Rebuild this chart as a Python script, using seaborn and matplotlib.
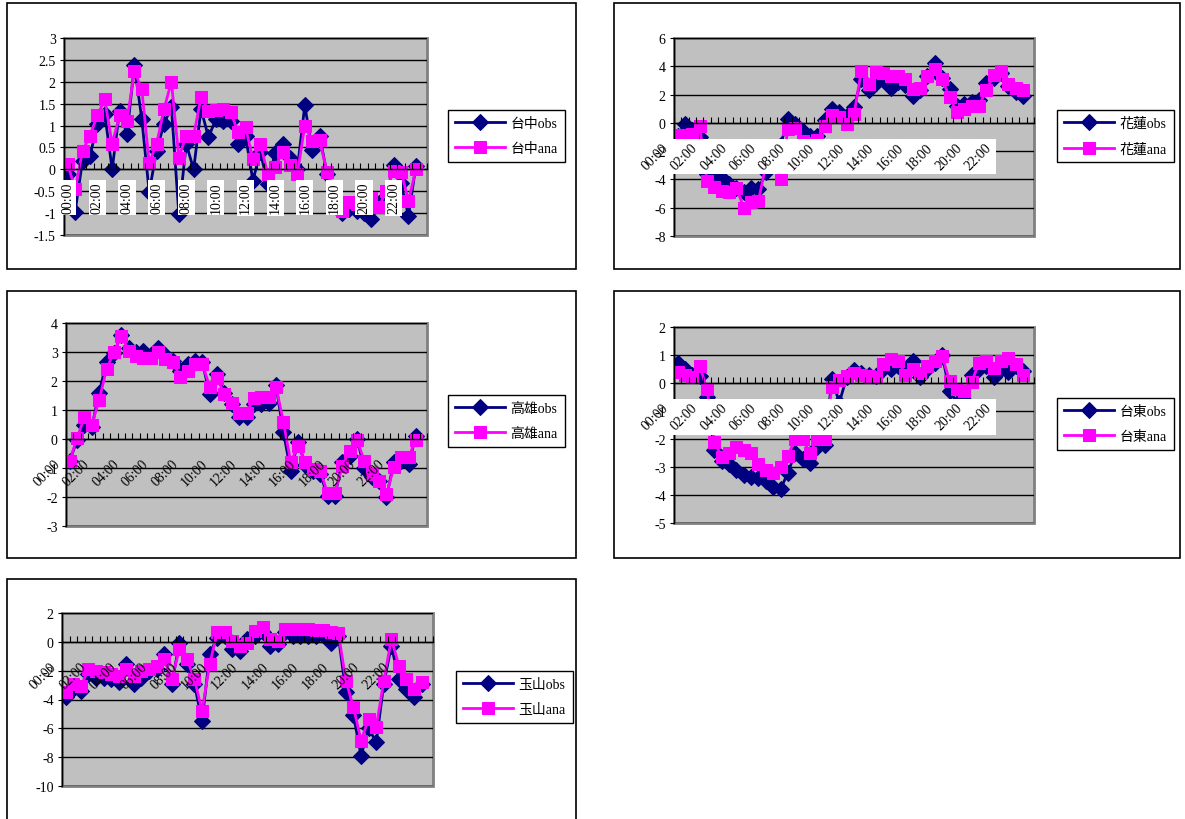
import numpy as np
import pandas as pd
import seaborn as sns
import matplotlib.pyplot as plt
from matplotlib import ticker, transforms
from matplotlib.patches import Rectangle

plt.rcParams['font.family'] = ['Liberation Serif', 'Noto Sans CJK TC']
plt.rcParams['font.size'] = 10

# Categories: half-hourly, 00:00 .. 24:00 (the last slot stays empty)
times = [f'{h:02d}:{m:02d}' for h in range(24) for m in (0, 30)] + ['24:00']

# 台中
taichung_obs = [-0.1, -0.97, 0.2, 0.3, 1.03, 1.27, 0.0, 1.34, 0.8, 2.38, 1.15, -0.52,
                0.43, 1.04, 1.42, -1.02, 0.58, 0.0, 1.38, 0.73, 1.15, 1.1, 1.1, 0.58,
                0.77, -0.26, 0.4, -0.33, 0.38, 0.58, 0.25, 0.0, 1.46, 0.45, 0.77, -0.1,
                -0.6, -1.0, -0.9, -0.95, -1.0, -1.14, -0.8, -0.6, 0.1, -0.32, -1.06, 0.08]
taichung_ana = [0.12, -0.45, 0.42, 0.77, 1.23, 1.6, 0.58, 1.23, 1.1, 2.25, 1.83, 0.15,
                0.58, 1.38, 2.0, 0.27, 0.77, 0.77, 1.65, 1.34, 1.35, 1.38, 1.3, 0.85,
                0.96, 0.24, 0.58, -0.1, 0.05, 0.4, 0.09, -0.1, 1.0, 0.65, 0.66, -0.05,
                -0.55, -0.95, -0.75, -0.8, -0.75, -0.65, -0.85, -0.5, -0.03, -0.05, -0.72, 0.0]

# 花蓮
hualien_obs = [-0.9, -0.05, -0.5, -1.0, -3.6, -3.9, -3.9, -4.3, -4.6, -4.9, -4.6, -4.7,
               -3.5, -2.4, -1.6, 0.3, -0.1, -0.6, -0.9, -0.9, 0.2, 1.0, 0.8, 0.5,
               1.1, 3.1, 2.3, 2.8, 3.0, 2.5, 2.9, 2.7, 1.9, 2.3, 3.3, 4.2,
               3.2, 2.4, 1.2, 1.3, 1.5, 1.6, 2.8, 3.2, 3.5, 2.6, 2.2, 1.9]
hualien_ana = [-0.85, -0.85, -0.8, -0.25, -4.1, -4.5, -4.8, -4.9, -4.6, -6.0, -5.6, -5.5,
               -3.0, -2.0, -4.0, -0.45, -0.35, -1.3, -1.4, -1.2, -0.2, 0.55, 0.4, -0.1,
               0.6, 3.7, 2.75, 3.6, 3.5, 3.3, 3.3, 3.1, 2.4, 2.5, 3.3, 3.8,
               3.1, 1.8, 0.75, 1.0, 1.2, 1.2, 2.3, 3.35, 3.7, 2.75, 2.5, 2.3]

# 高雄
kaohsiung_obs = [-0.75, -0.05, 0.5, 0.4, 1.6, 2.65, 2.95, 3.6, 3.15, 3.0, 3.05, 2.9,
                 3.15, 2.9, 2.7, 2.35, 2.6, 2.7, 2.65, 1.55, 2.25, 1.6, 1.2, 0.75,
                 0.75, 1.2, 1.2, 1.25, 1.85, 0.25, -1.1, -0.1, -0.9, -1.1, -1.2, -1.95,
                 -1.95, -0.8, -0.6, 0.0, -1.0, -1.3, -1.45, -2.0, -0.8, -0.75, -0.85, 0.1]
kaohsiung_ana = [-0.75, 0.03, 0.75, 0.5, 1.35, 2.4, 3.0, 3.55, 3.05, 2.85, 2.8, 2.8,
                 3.0, 2.75, 2.65, 2.15, 2.35, 2.6, 2.6, 1.8, 2.1, 1.55, 1.25, 0.9,
                 0.9, 1.4, 1.45, 1.45, 1.8, 0.6, -0.8, -0.25, -0.8, -1.05, -1.1, -1.85,
                 -1.85, -0.92, -0.4, -0.05, -0.75, -1.2, -1.45, -1.9, -0.98, -0.63, -0.63, -0.03]

# 台東
taitung_obs = [0.7, 0.5, 0.3, 0.25, -0.5, -2.4, -2.8, -2.9, -3.1, -3.3, -3.35, -3.4,
               -3.5, -3.7, -3.8, -3.2, -2.5, -2.7, -2.85, -2.3, -2.2, 0.15, -0.7, 0.2,
               0.45, 0.35, 0.3, 0.25, 0.5, 0.5, 0.6, 0.45, 0.8, 0.2, 0.5, 0.7,
               1.0, -0.28, -0.7, -0.6, 0.3, 0.5, 0.6, 0.2, 0.5, 0.4, 0.6, 0.43]
taitung_ana = [0.4, 0.3, 0.2, 0.6, -0.22, -2.1, -2.65, -2.5, -2.3, -2.4, -2.5, -2.9,
               -3.1, -3.2, -3.0, -2.6, -2.0, -2.0, -2.5, -2.0, -2.0, -0.15, 0.1, 0.25,
               0.37, 0.3, 0.25, 0.2, 0.67, 0.85, 0.8, 0.3, 0.5, 0.35, 0.6, 0.8,
               0.97, 0.08, -0.2, -0.3, 0.02, 0.73, 0.8, 0.55, 0.8, 0.9, 0.67, 0.3]

# 玉山
yushan_obs = [-3.85, -3.3, -3.4, -2.25, -2.5, -2.5, -2.6, -2.8, -1.55, -2.95, -2.5, -2.0,
              -1.9, -0.85, -2.95, -0.05, -1.55, -2.95, -5.5, -0.85, 0.3, 0.4, -0.5, -0.63,
              0.2, 0.4, 0.65, -0.3, -0.15, 0.65, 0.4, 0.4, 0.4, 0.4, 0.5, -0.1,
              0.4, -3.5, -5.1, -7.9, -6.0, -6.97, -2.9, -0.27, -2.6, -3.3, -3.85, -2.9]
yushan_ana = [-3.5, -2.95, -3.05, -1.9, -2.0, -2.1, -2.25, -2.35, -1.9, -2.35, -2.0, -1.9,
              -1.65, -1.2, -2.6, -0.5, -1.2, -2.6, -4.8, -1.55, 0.65, 0.65, 0.07, -0.28,
              -0.05, 0.75, 1.0, 0.2, 0.07, 0.88, 0.88, 0.88, 0.88, 0.85, 0.85, 0.65,
              0.6, -2.7, -4.55, -6.85, -5.35, -5.9, -2.7, 0.2, -1.66, -2.6, -3.3, -2.8]

W, H = 1185, 820
fig = plt.figure(figsize=(W / 100, H / 100), dpi=100)

# station, obs, ana, plot area (l, t, r, b) px, y range + step, legend (left, centre y) px, label style
panels = [
    ('台中', taichung_obs, taichung_ana, (64, 39, 427, 236), (-1.5, 3, 0.5), (448, 137), 'vbox'),
    ('花蓮', hualien_obs, hualien_ana, (674, 39, 1034, 237), (-8, 6, 2), (1057, 137), 'band'),
    ('高雄', kaohsiung_obs, kaohsiung_ana, (66, 324, 427, 527), (-3, 4, 1), (448, 422), 'plain'),
    ('台東', taitung_obs, taitung_ana, (674, 328, 1034, 524), (-5, 2, 1), (1057, 425), 'band'),
    ('玉山', yushan_obs, yushan_ana, (62, 614, 433, 787), (-10, 2, 2), (456, 698), 'plain'),
]

# chart frames
frames = [(7, 4, 576, 270), (614, 4, 1180, 270), (7, 292, 576, 559),
          (614, 292, 1180, 559), (7, 580, 576, 830)]
for x0, y0, x1, y1 in frames:
    fig.add_artist(Rectangle((x0 / W, 1 - y1 / H), (x1 - x0) / W, (y1 - y0) / H,
                             transform=fig.transFigure, fill=False,
                             edgecolor='black', linewidth=1.2))

band_axes = []
for name, obs, ana, (l, t, r, b), (lo, hi, step), (lx, ly), style in panels:
    assert len(obs) == 48 and len(ana) == 48
    ax = fig.add_axes([l / W, 1 - b / H, (r - l) / W, (b - t) / H])
    ax.set_facecolor('#C0C0C0')
    ax.patch.set_edgecolor('#808080')
    ax.patch.set_linewidth(2)

    df = pd.DataFrame({'idx': np.arange(48), 'obs': obs, 'ana': ana})
    sns.lineplot(data=df, x='idx', y='obs', ax=ax, color='#000080', linewidth=2,
                 marker='D', markersize=8, mec='#000080', label=f'{name}obs')
    sns.lineplot(data=df, x='idx', y='ana', ax=ax, color='#FF00FF', linewidth=2,
                 marker='s', markersize=9, mec='#FF00FF', label=f'{name}ana')

    ax.set_xlim(-0.5, len(times) - 0.5)
    ax.set_ylim(lo, hi)
    ax.set_yticks(np.arange(lo, hi + step / 2, step))
    ax.yaxis.set_major_formatter(ticker.FuncFormatter(lambda v, p: f'{v:g}'))
    ax.set_xlabel('')
    ax.set_ylabel('')

    ax.set_xticks(range(0, 48, 4))
    ax.set_xticklabels([times[i] for i in range(0, 48, 4)])
    ax.set_xticks(np.arange(-0.5, len(times), 1), minor=True)
    ax.tick_params(axis='x', which='minor', direction='in', length=4, width=0.8, color='black')
    ax.tick_params(axis='y', direction='out', length=3, width=0.8, pad=3, labelsize=10)

    for side in ('top', 'right'):
        ax.spines[side].set_visible(False)
    ax.spines['left'].set_color('black')
    ax.spines['left'].set_linewidth(1)
    ax.spines['bottom'].set_position(('data', 0))
    ax.spines['bottom'].set_linewidth(1)

    ax.yaxis.grid(True, color='black', linewidth=1)
    ax.xaxis.grid(False)
    ax.set_axisbelow(True)
    ax.xaxis.set_zorder(3)

    if style == 'vbox':
        ax.tick_params(axis='x', which='major', length=0, pad=9)
        for lbl in ax.get_xticklabels():
            lbl.set_rotation(90)
            lbl.set_ha('center')
            lbl.set_va('top')
            lbl.set_bbox(dict(facecolor='white', edgecolor='none', pad=1.5))
    else:
        ax.tick_params(axis='x', which='major', length=0, pad=13)
        shift = transforms.ScaledTranslation(-7 / 100, 0, fig.dpi_scale_trans)
        for lbl in ax.get_xticklabels():
            lbl.set_rotation(45)
            lbl.set_ha('right')
            lbl.set_va('top')
            lbl.set_transform(lbl.get_transform() + shift)
        if style == 'band':
            band_axes.append(ax)

    leg = ax.legend(loc='center left', bbox_to_anchor=(lx / W, 1 - ly / H),
                    bbox_transform=fig.transFigure, fancybox=False, framealpha=1,
                    edgecolor='black', borderpad=0.5, handlelength=3.6,
                    handletextpad=0.4, labelspacing=0.9, borderaxespad=0, fontsize=10)
    leg.get_frame().set_linewidth(1)

# white band behind the slanted time labels
fig.canvas.draw()
renderer = fig.canvas.get_renderer()
for ax in band_axes:
    boxes = [t.get_window_extent(renderer) for t in ax.get_xticklabels() if t.get_text()]
    bb = transforms.Bbox.union(boxes)
    axbb = ax.get_window_extent(renderer)
    x0, x1 = axbb.x0 - 6, bb.x1 + 2
    y0, y1 = bb.y0 - 2, bb.y1 + 2
    ax.add_artist(Rectangle((x0, y0), x1 - x0, y1 - y0,
                            transform=transforms.IdentityTransform(),
                            facecolor='white', edgecolor='none', zorder=2.8, clip_on=False))

fig.savefig('out.png', dpi=100)
